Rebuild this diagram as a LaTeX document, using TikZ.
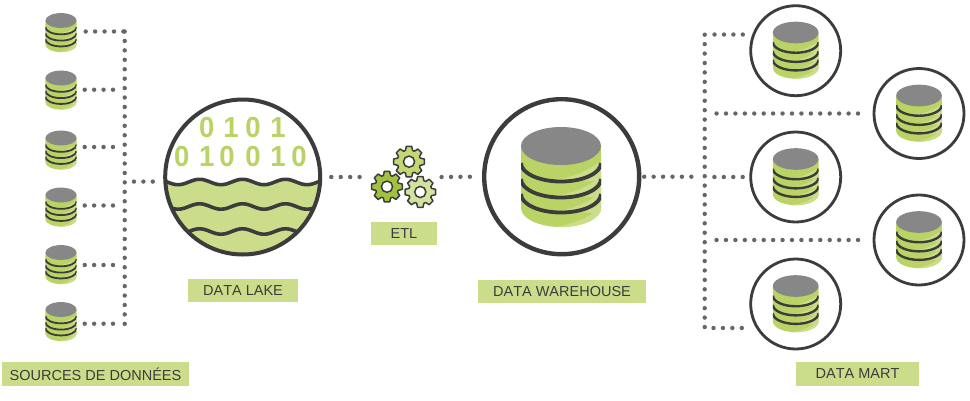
\documentclass[tikz,border=0pt]{standalone}
\usepackage{graphicx}
\usepackage{fontspec}
\setmainfont[Kerning=Off]{Liberation Sans}
\definecolor{dbgreen}{HTML}{B9D364}
\definecolor{dblight}{HTML}{CBDD8A}
\definecolor{dbgray}{HTML}{878787}
\definecolor{ink}{HTML}{3C3C3C}
\definecolor{dotc}{HTML}{666666}
\definecolor{gearA}{HTML}{C3D873}
\definecolor{gearB}{HTML}{A2C23F}
\definecolor{gearC}{HTML}{D2E3A0}
\tikzset{
  dots/.style={line width=4.4pt,line cap=round,dotc,dash pattern=on 0pt off 9.43pt},
  lab/.style={fill=dblight,text=ink,inner sep=0pt,font=\fontsize{14.5}{16}\selectfont,anchor=center},
  ring/.style={circle,draw=ink,inner sep=0pt,minimum size=#1},
  anchorbox/.style={inner sep=0pt,outer sep=0pt,minimum width=#1,minimum height=10pt},
  digit/.style={text=dbgreen,inner sep=0pt,font=\fontsize{29}{30}\selectfont\bfseries},
  gearshape/.style={draw=ink,line width=1.5pt,line join=round}
}
% cylinder: x, y (centre of the top ellipse), scale, line width
\newcommand{\dbcyl}[4]{%
  \begin{scope}[shift={(#1,#2)},scale=#3]
    \fill[dbgreen] (-40pt,0pt) -- (-40pt,62pt) arc[start angle=180,end angle=0,x radius=40pt,y radius=19pt] -- (40pt,0pt) -- cycle;
    \begin{scope}
      \clip (-40pt,0pt) -- (-40pt,62pt) arc[start angle=180,end angle=0,x radius=40pt,y radius=19pt] -- (40pt,0pt) -- cycle;
      \foreach \o in {0,16,32,47}{
        \fill[dblight,shift={(0pt,\o pt)}] (-12pt,34.5pt) .. controls (10pt,33pt) and (28pt,24pt) .. (41pt,14pt) -- (41pt,37pt) .. controls (25pt,33pt) and (10pt,34.5pt) .. (-12pt,34.5pt) -- cycle;
      }
      \foreach \o in {17,33,48}{
        \draw[ink,line width=#4] (-40pt,\o pt) arc[start angle=180,end angle=0,x radius=40pt,y radius=18.5pt];
      }
    \end{scope}
    \fill[dbgray] (0pt,0pt) ellipse[x radius=40pt,y radius=19pt];
  \end{scope}}
% gear: x, y, fill colour
\newcommand{\gearicon}[3]{%
  \begin{scope}[shift={(#1,#2)}]
    \path[gearshape,fill=#3] (-10:15.5pt) foreach \a in {0,45,...,315}{ -- ({\a-10}:15.5pt) -- ({\a+10}:15.5pt) -- ({\a+18}:11.8pt) -- ({\a+27}:11.8pt)} -- cycle;
    \draw[ink,line width=1.5pt,fill=white] (0pt,0pt) circle[radius=5.6pt];
  \end{scope}}
\begin{document}
\begin{tikzpicture}[x=1pt,y=1pt,yscale=-1]
\useasboundingbox (0,0) rectangle (970,400);
\fill[white] (0,0) rectangle (970,400);

% source anchors
\node[anchorbox=49.4pt] (s1) at (61,31.5) {};
\node[anchorbox=47.4pt] (s2) at (61,89.7) {};
\node[anchorbox=47.4pt] (s3) at (61,147) {};
\node[anchorbox=47.4pt] (s4) at (61,205.5) {};
\node[anchorbox=47.4pt] (s5) at (61,265) {};
\node[anchorbox=47.4pt] (s6) at (61,323.7) {};
\dbcyl{61}{20.5}{0.39}{1.8pt}
\dbcyl{61}{78}{0.39}{1.8pt}
\dbcyl{61}{138}{0.39}{1.8pt}
\dbcyl{61}{195}{0.39}{1.8pt}
\dbcyl{61}{252.5}{0.39}{1.8pt}
\dbcyl{61}{309.5}{0.39}{1.8pt}

\coordinate (lt) at (124.7,31.5);
\coordinate (lb) at (124.7,325);

% data lake
\node[circle,inner sep=0pt,minimum size=155pt,outer sep=10pt] (lake) at (242.7,177) {};
\begin{scope}
  \clip (lake.center) circle[radius=77.5pt];
  \fill[dblight] plot[domain=160:326,samples=120] (\x,{182+2.7*cos((\x-178)/43*360)}) -- (326,262) -- (160,262) -- cycle;
  \draw[ink,line width=3.6pt] plot[domain=160:326,samples=120] (\x,{182+2.7*cos((\x-178)/43*360)});
  \draw[ink,line width=3.6pt] plot[domain=160:326,samples=120] (\x,{206.5+2.7*cos((\x-178)/43*360)});
  \draw[ink,line width=3.6pt] plot[domain=160:326,samples=120] (\x,{231.5+2.7*cos((\x-178)/43*360)});
\end{scope}
\draw[ink,line width=4pt] (lake.center) circle[radius=77.5pt];
\foreach \n/\px/\d in {a/206.7/0,b/231/1,c/253/0,d/278/1}{
  \node[digit] (ta\n) at (\px,128) {\scalebox{0.95}[1]{\d}};
}
\foreach \n/\px/\d in {a/181.7/0,b/206.7/1,c/227/0,d/253/0,e/278/1,f/299/0}{
  \node[digit] (tb\n) at (\px,157) {\scalebox{0.95}[1]{\d}};
}

% ETL
\node[anchorbox=82pt] (etlg) at (400.6,177) {};
\gearicon{409}{161.7}{gearA}
\gearicon{387}{186.7}{gearB}
\gearicon{420.3}{192}{gearC}

% warehouse
\node[ring=155pt,line width=4.4pt,outer sep=5pt] (wh) at (561.7,176.7) {};
\node[inner sep=0pt,minimum size=155pt,circle,outer sep=13.5pt] (whl) at (561.7,176.7) {};
\dbcyl{561}{146}{1}{3.8pt}

% marts
\node[ring=90pt,line width=2.8pt,outer sep=10.3pt] (m1) at (795.7,50.7) {};
\node[ring=90pt,line width=2.8pt,outer sep=16pt] (m2) at (919,113.5) {};
\node[ring=90pt,line width=2.8pt,outer sep=8pt] (m3) at (795.7,177) {};
\node[ring=90pt,line width=2.8pt,outer sep=16pt] (m4) at (919,240) {};
\node[ring=90pt,line width=2.8pt,outer sep=14pt] (m5) at (795.7,304) {};
\dbcyl{795.7}{32.5}{0.57}{2.4pt}
\dbcyl{919}{95.5}{0.57}{2.4pt}
\dbcyl{795.7}{159}{0.57}{2.4pt}
\dbcyl{919}{222}{0.57}{2.4pt}
\dbcyl{795.7}{286}{0.57}{2.4pt}
\coordinate (rt) at (704.7,34.7);
\coordinate (rb) at (704.7,328);

% connectors, left
\draw[dots,shorten >=1pt] (s1.east) -- (lt);
\foreach \s in {s2,s3,s4,s5,s6}{
  \draw[dots,shorten >=7pt] (\s.east) -- (\s.east -| lt);
}
\draw[dots] (lt) -- (lb);
\draw[dots,shorten <=2.5pt,shorten >=7pt] (lake.183.3) -- (lake.183.3 -| lt);
\draw[dots] (etlg.west) -- (lake.east);
\draw[dots] (etlg.east) -- (whl.west);

% connectors, right
\draw[dots] (rt) -- (rb);
\draw[dots,shorten >=7pt] (wh.east) -- (wh.east -| rt);
\draw[dots,shorten >=5pt] (m1.163.2) -- (m1.163.2 -| rt);
\draw[dots,shorten >=7pt] (m2.west) -- (m2.west -| rt);
\draw[dots,shorten >=7pt] (m3.west) -- (m3.west -| rt);
\draw[dots,shorten >=7pt] (m4.west) -- (m4.west -| rt);
\draw[dots,shorten >=5pt] (m5.204) -- (m5.204 -| rt);

% labels
\node[lab,minimum width=187pt,minimum height=24pt] (lsrc) at (95.5,374) {SOURCES DE DONNÉES};
\node[lab,minimum width=110pt,minimum height=23pt] (llake) at (243,290.5) {DATA LAKE};
\node[lab,minimum width=66pt,minimum height=23.5pt] (letl) at (404,233.5) {ETL};
\node[lab,minimum width=168pt,minimum height=23pt] (lwh) at (562,291.5) {DATA WAREHOUSE};
\node[lab,minimum width=123pt,minimum height=24pt] (lmart) at (857.5,374) {DATA MART};
\end{tikzpicture}
\end{document}
